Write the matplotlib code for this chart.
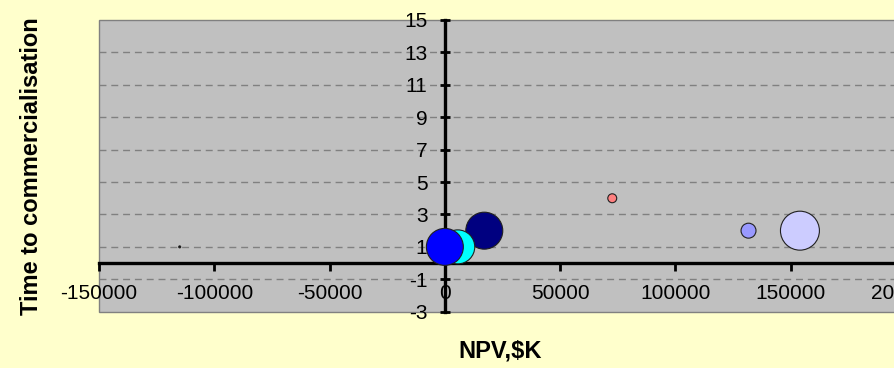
import matplotlib
matplotlib.use("Agg")
import matplotlib.pyplot as plt

plt.rcParams['font.family'] = ['Liberation Sans', 'DejaVu Sans']
plt.rcParams['axes.unicode_minus'] = False

# bubble data: NPV ($K), time to commercialisation, bubble size
npv = [-115000, 154000, 131700, 72600, 17100, 5600, 0]
time_to_market = [1, 2, 2, 4, 2, 1, 1]
bubble_size = [1, 380, 56, 20, 342, 289, 342]
bubble_colors = ['#000000', '#CCCCFF', '#9999FF', '#FF8080', '#000080', '#00FFFF', '#0000FF']

x_ticks = [-150000, -100000, -50000, 0, 50000, 100000, 150000, 200000]
y_ticks = [-3, -1, 1, 3, 5, 7, 9, 11, 13, 15]

fig = plt.figure(figsize=(8.94, 3.68), dpi=100)
fig.patch.set_facecolor('#FFFFCC')
ax = fig.add_axes([99 / 894, 1 - 311.7 / 368, (906 - 99) / 894, 291.7 / 368])
ax.set_facecolor('#C0C0C0')
ax.patch.set_edgecolor('#808080')
ax.patch.set_linewidth(1.0)

ax.scatter(npv, time_to_market, s=[v * 2.07 for v in bubble_size], c=bubble_colors,
           edgecolors='#202020', linewidths=0.8, zorder=3)

ax.set_xlim(-150000, 200000)
ax.set_ylim(-3, 15)
ax.set_xticks(x_ticks)
ax.set_yticks(y_ticks)

for v in y_ticks[1:-1]:
    ax.axhline(v, color='#808080', lw=1.0, linestyle=(0, (5, 3.5)), zorder=1)

ax.spines['left'].set_position(('data', 0))
ax.spines['bottom'].set_position(('data', 0))
ax.spines['top'].set_visible(False)
ax.spines['right'].set_visible(False)
for s in ['left', 'bottom']:
    ax.spines[s].set_linewidth(2.4)
    ax.spines[s].set_color('black')

ax.tick_params(axis='x', direction='out', length=6, width=2, pad=9, labelsize=15)
ax.tick_params(axis='y', direction='inout', length=7, width=2, pad=9, labelsize=15)

fig.text(32 / 894, 1 - 166 / 368, 'Time to commercialisation', rotation=90,
         ha='center', va='center', fontsize=17, fontweight='bold')
fig.text(500 / 894, 1 - 351 / 368, 'NPV,$K', ha='center', va='center',
         fontsize=17, fontweight='bold')

fig.savefig('out.png', dpi=100, facecolor=fig.get_facecolor())
